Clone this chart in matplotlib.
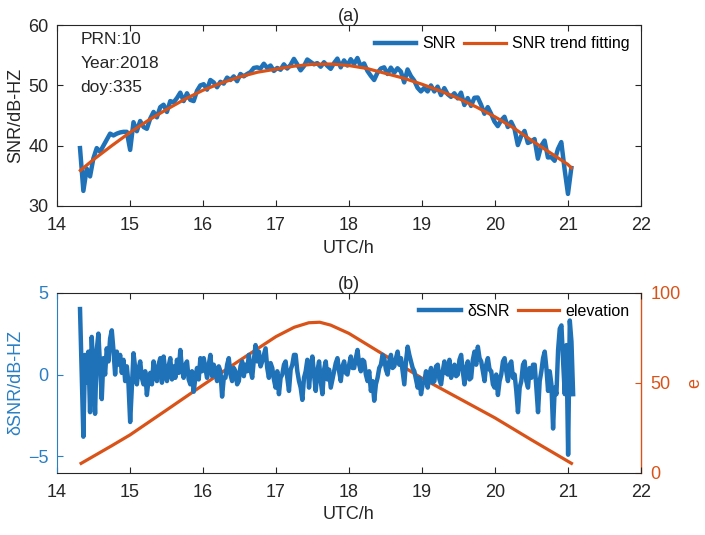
import numpy as np
import matplotlib
matplotlib.use("Agg")
import matplotlib.pyplot as plt

plt.rcParams['font.family'] = ['Liberation Sans', 'DejaVu Sans']
plt.rcParams['font.size'] = 13

# ---------------- data ----------------
# SNR observations (dB-Hz), 148 samples between t_snr_start and t_snr_end
t_snr_start, t_snr_end = 14.315, 21.048
snr = [39.6, 32.5, 36.2, 34.9, 37.9, 39.6, 39.0, 40.0, 41.0, 42.0,
       41.7, 42.0, 42.2, 42.3, 42.3, 39.3, 43.9, 42.4, 44.1, 43.1,
       42.8, 44.5, 45.6, 44.7, 46.4, 46.8, 45.6, 47.4, 47.2, 47.9,
       48.8, 47.4, 48.7, 47.6, 47.4, 49.1, 50.0, 50.2, 49.3, 50.9,
       50.5, 49.7, 50.6, 50.3, 51.3, 50.9, 51.5, 50.7, 51.9, 51.5,
       51.9, 52.2, 52.9, 53.0, 52.8, 53.6, 52.9, 53.3, 52.4, 52.9,
       52.6, 53.5, 52.8, 53.4, 54.4, 53.5, 52.5, 53.2, 54.3, 53.9,
       53.5, 53.7, 53.1, 53.85, 53.25, 52.75, 53.7, 54.45, 53.0, 54.15,
       53.3, 54.35, 53.55, 54.55, 53.15, 53.65, 52.4, 51.6, 50.9, 52.1,
       52.8, 53.0, 51.9, 52.95, 52.1, 52.85, 52.3, 50.5, 52.65, 51.55,
       50.8, 49.6, 49.0, 49.6, 49.0, 50.0, 49.0, 49.8, 48.4, 49.55,
       48.55, 48.1, 48.7, 47.85, 48.8, 46.75, 47.9, 46.6, 47.95, 48.0,
       46.8, 45.3, 46.4, 45.3, 44.0, 43.25, 44.2, 44.8, 43.1, 43.95,
       42.8, 40.1, 41.6, 42.45, 40.45, 40.7, 41.1, 37.85, 40.0, 40.85,
       38.05, 38.1, 37.5, 39.45, 40.6, 36.05, 32.0, 36.3]

# SNR trend fitting (dB-Hz)
trend_t = [14.32, 14.5, 14.75, 15.0, 15.25, 15.5, 15.75, 16.0, 16.25, 16.5,
           16.75, 17.0, 17.25, 17.5, 17.75, 18.0, 18.25, 18.5, 18.75, 19.0,
           19.25, 19.5, 19.75, 20.0, 20.25, 20.5, 20.75, 21.0, 21.05]
trend_v = [35.9, 37.7, 40.0, 42.2, 44.2, 46.0, 47.7, 49.2, 50.4, 51.4,
           52.2, 52.7, 53.2, 53.5, 53.55, 53.3, 52.8, 52.0, 51.2, 50.2,
           49.1, 47.85, 46.4, 44.8, 43.0, 40.9, 38.9, 36.9, 36.3]

# dSNR residuals (dB-Hz), 296 samples between t_d_start and t_d_end
t_d_start, t_d_end = 14.315, 21.073
dsnr = [4.0, 0.0, -3.8, 1.2, -0.5, 1.4, -2.3, 2.3, 0.2, -2.4,
        1.5, 2.5, 0.5, -1.5, 1.0, 0.0, 1.6, 0.8, 2.2, 2.7,
        1.5, 0.0, 1.4, 0.6, 1.2, 0.1, 0.9, -0.4, 0.5, -0.6,
        -2.9, -0.8, 1.3, 0.4, -0.6, 0.3, 0.8, -0.2, -0.6, 0.2,
        -1.25, -0.3, 0.1, -0.6, 0.8, 0.0, -0.4, 0.6, 1.0, -0.5,
        1.1, 0.2, -0.4, 0.5, 1.0, -0.3, 0.5, -0.2, 0.9, 0.1,
        1.5, 0.3, -0.2, 0.6, 0.8, -0.3, -0.6, 0.2, -1.05, -0.2,
        0.4, -0.3, 1.0, 0.2, 1.0, 0.4, -0.2, 0.6, 1.2, -0.1,
        0.6, 0.2, -0.4, 0.5, 0.2, -1.35, -0.2, -0.2, 0.6, 1.0,
        0.0, -0.4, 0.4, 0.2, -0.6, -0.4, 0.5, 0.8, -0.1, 0.6,
        0.2, 1.2, 0.3, -0.2, 0.9, 1.8, 0.8, 1.4, 0.5, 0.8,
        1.2, 1.6, 0.4, -0.2, 0.7, 0.4, -0.3, -0.8, 0.2, -1.2,
        -0.2, 0.0, 0.6, 0.8, -0.2, -1.0, 0.3, 0.6, 1.2, 1.2,
        0.2, -0.4, -0.8, -1.55, -0.2, 0.2, 0.9, -0.8, 0.4, 1.1,
        0.0, -1.0, 0.2, 0.8, -0.4, -1.2, 0.3, 0.8, -0.3,
        0.3, -0.8, -0.3, 0.2, 0.7, 1.0, 0.2, -0.4, 0.5, 0.8,
        0.1, 0.0, 0.6, 1.1, 0.4, 0.4, 1.0, 1.5, 0.6, 0.2,
        0.9, 0.8, 0.0, -0.4, 0.2, -1.0, -0.4, -1.6, -0.6, -0.2,
        0.4, 0.6, 1.2, 1.0, 0.3, 0.0, 0.8, 1.2, 0.4, 0.5,
        1.0, 1.4, 0.6, 1.0, 0.2, -0.6, 0.8, 1.7, 1.2, 0.8,
        0.4, 0.2, -0.3, -0.8, -0.2, -1.2, -0.6, -0.4, 0.2, -0.8,
        0.0, 0.4, -0.5, -0.4, 0.5, 0.6, -0.3, -0.6, 0.2, 0.8,
        0.1, 0.0, 0.9, -0.2, 0.3, 0.6, -0.1, 0.0, 0.9, 1.2,
        0.2, -0.6, 0.4, 0.8, -0.3, -0.2, 0.9, 1.4, 0.6, 1.7,
        1.0, 0.8, 0.2, -0.4, 0.6, 1.0, 0.3, 0.2, -0.6, -0.8,
        0.0, -1.25, -0.4, 0.0, 0.8, 1.0, 0.2, -0.4, 0.6, 0.8,
        -0.2, 0.0, -1.0, -2.3, -0.8, -0.4, 0.6, 0.8, -0.4, -0.8,
        0.4, -0.2, 0.6, 0.6, -0.8, -2.3, -0.4, 0.2, 1.0, 1.4,
        0.4, -1.0, 0.2, -0.6, -3.3, -0.8, -1.2, 1.5, 2.8, 3.0,
        0.8, -1.2, 1.8, -4.9, 3.3, 2.0, -1.2]

# satellite elevation (deg)
elev_t = [14.33, 14.75, 15.0, 15.5, 16.0, 16.5, 17.0, 17.25, 17.45, 17.6,
          17.75, 18.0, 18.5, 19.0, 19.5, 20.0, 20.5, 21.05]
elev_v = [5.2, 15.0, 21.0, 34.8, 48.7, 62.3, 75.6, 80.8, 83.3, 83.6,
          82.0, 77.4, 65.0, 52.5, 41.5, 30.5, 18.3, 5.2]

info_lines = ["PRN:10", "Year:2018", "doy:335"]
xticks = [14, 15, 16, 17, 18, 19, 20, 21, 22]

# ---------------- styling ----------------
BLUE = '#1f71b8'
BLUE_AX = '#2a7fc4'
ORANGE = '#D95319'
DARK = '#262626'
FS = 13
LEG_FS = 11.5

t_snr = np.linspace(t_snr_start, t_snr_end, len(snr))
t_d = np.linspace(t_d_start, t_d_end, len(dsnr))

fig = plt.figure(figsize=(7.05, 5.35), dpi=100)
ax1 = fig.add_axes([0.0809, 0.615, 0.828, 0.338])
ax2 = fig.add_axes([0.0809, 0.1164, 0.828, 0.3365])

# ---- panel (a) ----
ax1.plot(t_snr, snr, color=BLUE, lw=3.2, label='SNR', solid_joinstyle='round')
ax1.plot(trend_t, trend_v, color=ORANGE, lw=2.3, label='SNR trend fitting')
ax1.set_xlim(14, 22)
ax1.set_ylim(30, 60)
ax1.set_xticks(xticks)
ax1.set_yticks([30, 40, 50, 60])
ax1.tick_params(axis='x', direction='in', top=True, colors=DARK,
                labelsize=FS, length=4, width=0.8, pad=8)
ax1.tick_params(axis='y', direction='in', right=True, colors=DARK,
                labelsize=FS, length=4, width=0.8, pad=6)
for s in ax1.spines.values():
    s.set_color(DARK)
    s.set_linewidth(0.8)
ax1.set_xlabel('UTC/h', fontsize=FS, color=DARK, labelpad=4)
ax1.set_ylabel('SNR/dB-HZ', fontsize=FS, color=DARK, labelpad=3)
ax1.set_title('(a)', fontsize=FS, color=DARK, pad=3)
for i, s in enumerate(info_lines):
    ax1.text(0.04, 0.92 - i * 0.133, s, transform=ax1.transAxes,
             fontsize=12.5, color=DARK, va='center', ha='left')
ax1.legend(loc='upper right', ncol=2, frameon=False, fontsize=LEG_FS,
           handlelength=2.6, columnspacing=0.5, handletextpad=0.4,
           borderaxespad=0.3)

# ---- panel (b) ----
ax2.plot(t_d, dsnr, color=BLUE, lw=3.2, label='δSNR', solid_joinstyle='round')
ax2.set_xlim(14, 22)
ax2.set_ylim(-6, 5)
ax2.set_xticks(xticks)
ax2.set_yticks([-5, 0, 5])
ax2.tick_params(axis='x', direction='in', top=True, colors=DARK,
                labelsize=FS, length=4, width=0.8, pad=8)
ax2.tick_params(axis='y', direction='in', colors=BLUE_AX, labelcolor=BLUE_AX,
                labelsize=FS, length=4, width=0.8, pad=6)
ax2.spines['left'].set_color(BLUE_AX)
ax2.spines['top'].set_color(DARK)
ax2.spines['bottom'].set_color(DARK)
ax2.spines['right'].set_visible(False)
ax2.set_xlabel('UTC/h', fontsize=FS, color=DARK, labelpad=4)
ax2.set_ylabel('δSNR/dB-HZ', fontsize=FS, color=BLUE_AX, labelpad=3)
ax2.set_title('(b)', fontsize=FS, color=DARK, pad=3)

ax3 = ax2.twinx()
ax3.plot(elev_t, elev_v, color=ORANGE, lw=2.3, label='elevation')
ax3.set_ylim(0, 100)
ax3.set_yticks([0, 50, 100])
ax3.tick_params(axis='y', direction='in', colors=ORANGE, labelcolor=ORANGE,
                labelsize=FS, length=4, width=0.8, pad=7)
for k in ['left', 'top', 'bottom']:
    ax3.spines[k].set_visible(False)
ax3.spines['right'].set_color(ORANGE)
ax3.spines['right'].set_linewidth(1.0)
ax3.set_ylabel('e', fontsize=FS, color=ORANGE, labelpad=4)
ax2.set_zorder(ax3.get_zorder() + 1)
ax2.patch.set_visible(False)

h1, l1 = ax2.get_legend_handles_labels()
h2, l2 = ax3.get_legend_handles_labels()
ax2.legend(h1 + h2, l1 + l2, loc='upper right', ncol=2, frameon=False,
           fontsize=LEG_FS, handlelength=2.6, columnspacing=0.5,
           handletextpad=0.4, borderaxespad=0.3)

fig.savefig('out.png', dpi=100)
